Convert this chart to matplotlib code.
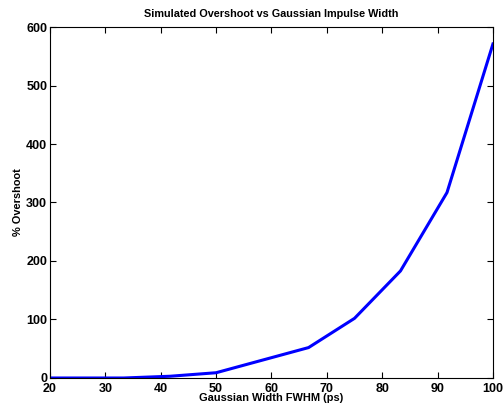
import matplotlib
matplotlib.use('Agg')
import matplotlib.pyplot as plt

# FWHM widths (ps) and simulated overshoot (%)
widths = [20, 33.3, 41.7, 50, 66.7, 75, 83.3, 91.7, 100]
overshoot = [0, 0, 3, 9, 52, 102, 183, 317, 571]

plt.rcParams['font.family'] = ['Liberation Sans', 'DejaVu Sans']

fig = plt.figure(figsize=(5.03, 4.11), dpi=100)
ax = fig.add_axes([0.0994, 0.0803, 0.8806, 0.8540])

ax.plot(widths, overshoot, color='#0000ff', lw=2.2)

ax.set_xlim(20, 100)
ax.set_ylim(0, 600)
ax.set_xticks(range(20, 101, 10))
ax.set_yticks(range(0, 601, 100))
ax.tick_params(direction='in', top=True, right=True, length=4, width=0.8,
               labelsize=9)
ax.tick_params(axis='x', pad=3.5)
ax.tick_params(axis='y', pad=2)
for lbl in ax.get_xticklabels() + ax.get_yticklabels():
    lbl.set_fontweight('bold')

ax.set_title('Simulated Overshoot vs Gaussian Impulse Width', fontsize=7.8,
             fontweight='bold', pad=7)
ax.set_xlabel('Gaussian Width FWHM (ps)', fontsize=7.9, fontweight='bold', labelpad=-1)
ax.set_ylabel('% Overshoot', fontsize=7.9, fontweight='bold', labelpad=2)

fig.savefig('out.png', dpi=100)
